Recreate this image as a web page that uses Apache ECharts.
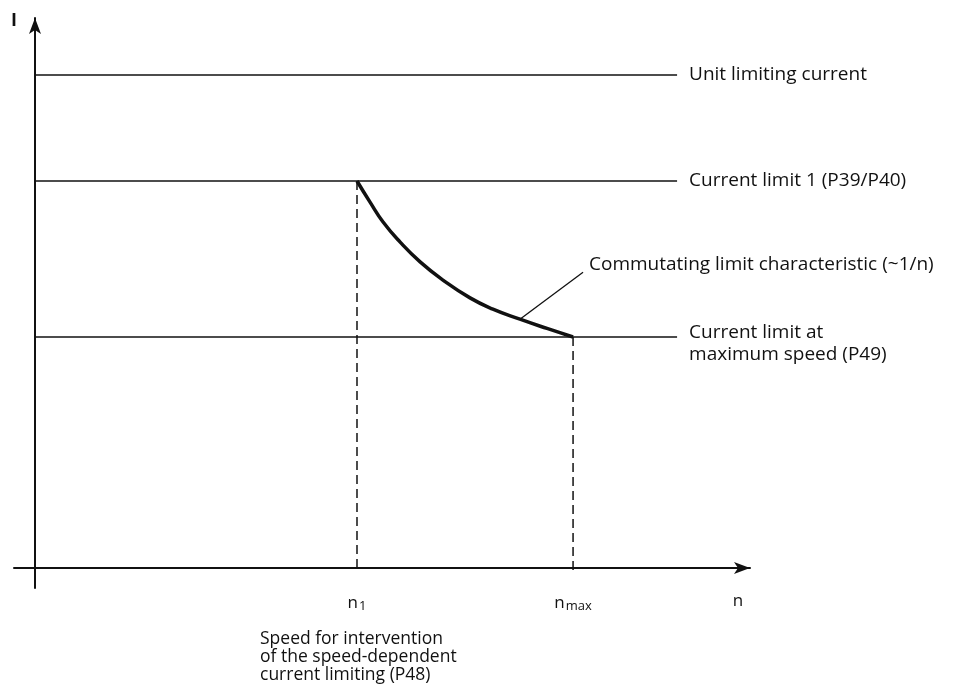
<!DOCTYPE html>
<html>
<head>
<meta charset="utf-8">
<title>Speed-dependent current limiting</title>
<script src="https://cdn.jsdelivr.net/npm/echarts@6/dist/echarts.min.js"></script>
<style>
  html, body { margin: 0; padding: 0; background: #fff; }
  #chart { width: 971px; height: 691px; }
</style>
</head>
<body>
<div id="chart"></div>
<script>
// speed axis in arbitrary units (n1 = 1000), current in units of current limit 1
const nTicks = [1000, 1671, 2183]
const nTickNames = ['{n|n}{s|1}', '{n|n}{s|max}', '{n|n}']

const unitLimit = 1.274
const limit1 = 1.0
const limitMax = 0.597
const lineEnd = 1994

// commutating limit characteristic
const curveN = [1000, 1040, 1081, 1134, 1196, 1267, 1351, 1422, 1506, 1590, 1671]
const curveI = [1.0, 0.946, 0.894, 0.842, 0.791, 0.744, 0.698, 0.669, 0.643, 0.619, 0.597]

const leader = [[1506, 0.643], [1702, 0.764]]

const labels = {
  unit: 'Unit limiting current',
  lim1: 'Current limit 1 (P39/P40)',
  comm: 'Commutating limit characteristic (~1/n)',
  limMax: 'Current limit at\nmaximum speed (P49)',
  caption: 'Speed for intervention\nof the speed-dependent\ncurrent limiting (P48)'
}

const font = 'Open Sans'
const fontSize = 19

function hline(val, text, dy) {
  return {
    type: 'line',
    symbol: 'none',
    lineStyle: { color: '#111', width: 1.5 },
    endLabel: { show: true, formatter: text, distance: 12, offset: [0, dy || 0], color: '#111', fontFamily: font, fontSize: fontSize, lineHeight: 22 },
    data: [[0, val], [lineEnd, val]]
  }
}

function vdash(n, top) {
  return {
    type: 'line',
    symbol: 'none',
    lineStyle: { color: '#111', width: 1.5, type: [9, 5] },
    data: [[n, top], [n, -0.01]]
  }
}

const chart = echarts.init(document.getElementById('chart'))
chart.setOption({
  animation: false,
  backgroundColor: '#fff',
  grid: { left: 14, right: 221, top: 18, bottom: 103 },
  xAxis: {
    type: 'value',
    min: -65.2,
    max: 2220.5,
    splitLine: { show: false },
    axisLine: { onZero: true, lineStyle: { color: '#111', width: 2 }, symbol: ['none', 'arrow'], symbolSize: [9, 16] },
    axisTick: { show: false },
    axisLabel: {
      customValues: nTicks,
      margin: 5,
      formatter: v => nTickNames[nTicks.indexOf(v)],
      rich: {
        n: { fontFamily: font, fontSize: 17, color: '#111' },
        s: { fontFamily: font, fontSize: 13, color: '#111', padding: [7, 0, 0, 1] }
      }
    }
  },
  yAxis: {
    type: 'value',
    min: -0.0517,
    max: 1.4212,
    name: 'I',
    nameLocation: 'end',
    nameGap: 6,
    nameTextStyle: { align: 'right', verticalAlign: 'top', padding: [0, 18, 0, 0], fontFamily: font, fontSize: 18, fontWeight: 'bold', color: '#111' },
    splitLine: { show: false },
    axisLine: { onZero: true, lineStyle: { color: '#111', width: 2 }, symbol: ['none', 'arrow'], symbolSize: [9, 16] },
    axisTick: { show: false },
    axisLabel: { show: false }
  },
  graphic: [{
    type: 'text',
    left: 260,
    top: 630,
    style: { text: labels.caption, fontFamily: font, fontSize: 17.5, lineHeight: 18, fill: '#111' }
  }],
  series: [
    hline(unitLimit, labels.unit),
    hline(limit1, labels.lim1),
    hline(limitMax, labels.limMax, 7),
    vdash(nTicks[0], limit1),
    vdash(nTicks[1], limitMax),
    {
      type: 'line',
      symbol: 'none',
      smooth: 0.5,
      lineStyle: { color: '#111', width: 3.5 },
      data: curveN.map((n, i) => [n, curveI[i]])
    },
    {
      type: 'line',
      symbol: 'none',
      lineStyle: { color: '#111', width: 1.3 },
      endLabel: { show: true, formatter: labels.comm, distance: 6, offset: [0, -8], color: '#111', fontFamily: font, fontSize: fontSize },
      data: leader
    }
  ]
})
</script>
</body>
</html>
